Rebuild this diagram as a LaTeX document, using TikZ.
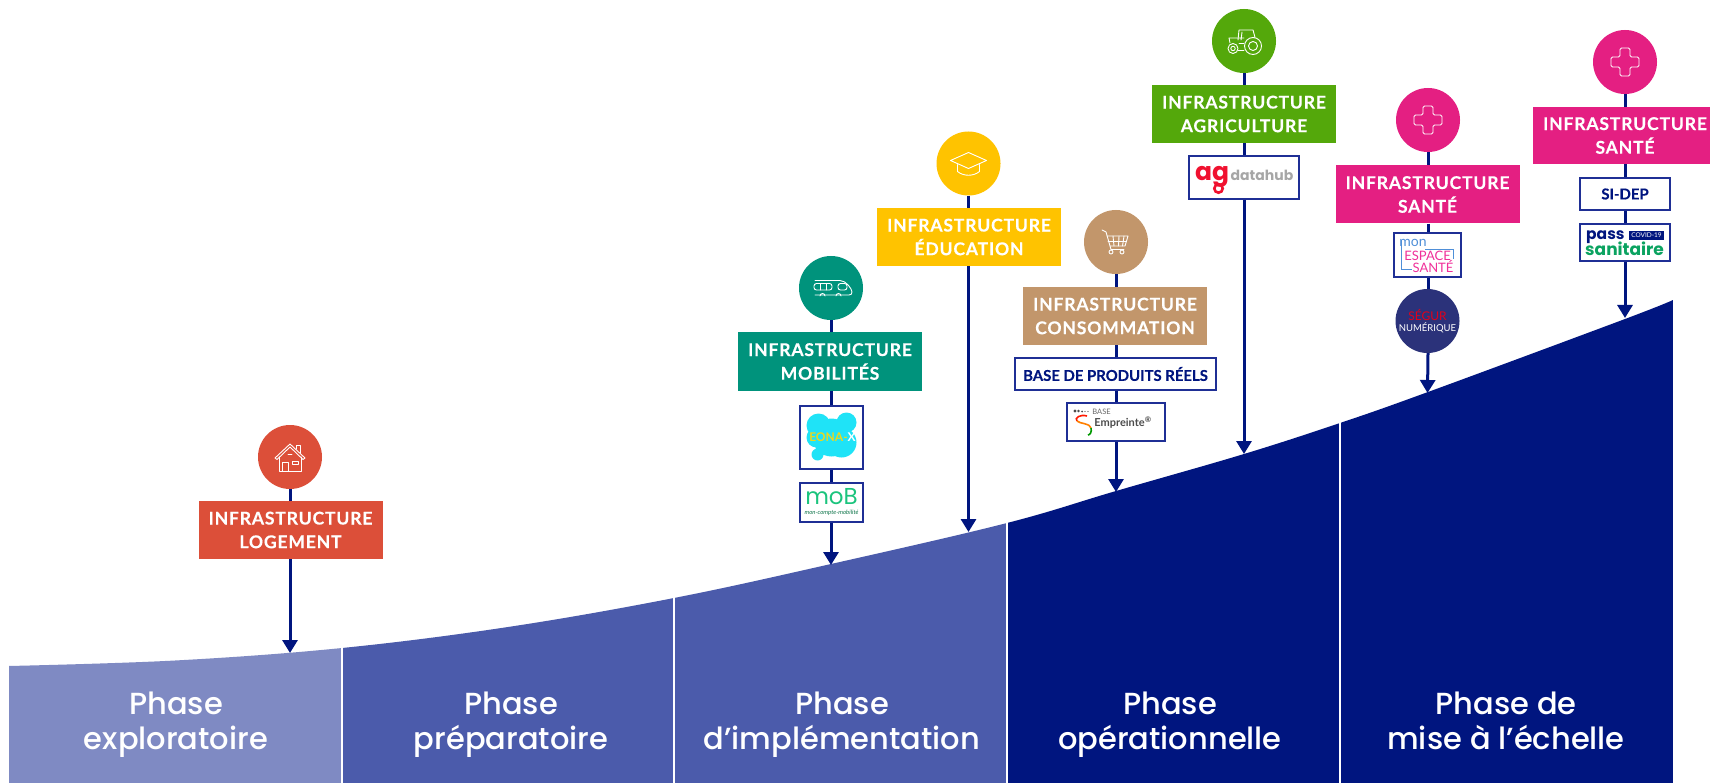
\documentclass[tikz,border=0pt]{standalone}
\usepackage{fontspec}
\usetikzlibrary{arrows.meta}
\setmainfont{Lato}
\newfontfamily\infrafont[LetterSpace=4.5,BoldFont={Lato Bold},BoldFeatures={FakeBold=0.2}]{Lato}
\newfontfamily\boxfont[BoldFont={Lato Bold},BoldFeatures={FakeBold=0.3}]{Lato}
\newfontfamily\phasefont{Poppins Medium}
\newfontfamily\popfont{Poppins}
\definecolor{navy}{HTML}{00157F}
\definecolor{boxblue}{HTML}{1F2F95}
\definecolor{ph1}{HTML}{7F8AC3}
\definecolor{ph2}{HTML}{4B5BAB}
\definecolor{clog}{HTML}{DC4F39}
\definecolor{cmob}{HTML}{00937C}
\definecolor{cedu}{HTML}{FFC300}
\definecolor{ccon}{HTML}{C2966B}
\definecolor{cagr}{HTML}{54A80B}
\definecolor{csan}{HTML}{E41F82}
\definecolor{cseg}{HTML}{2B327A}
\definecolor{mobgreen}{HTML}{1BC47D}
\definecolor{passgreen}{HTML}{0BA360}
\definecolor{eonacyan}{HTML}{1FE3F7}
\definecolor{eonayellow}{HTML}{E8D820}
\definecolor{agred}{HTML}{F0112F}
\definecolor{segred}{HTML}{E2001A}
\definecolor{monblue}{HTML}{4F8FD8}
\definecolor{monpink}{HTML}{F0309A}
\tikzset{
  disc/.style={circle,fill=#1,minimum size=64pt,inner sep=0pt},
  infratext/.style={text=white,align=center,font=\infrafont\bfseries\fontsize{17.6}{23.7}\selectfont,
    execute at begin node={\rule{0pt}{15pt}}},
  infra/.style={fill=#1,infratext,minimum width=184pt,minimum height=58pt,inner sep=0pt},
  logobox/.style={draw=boxblue,line width=1.3pt,fill=white,inner sep=0pt,align=center},
  boxtext/.style={text=navy,font=\boxfont\bfseries\fontsize{14.9}{18}\selectfont},
  conn/.style={draw=navy,line width=3pt},
  connarrow/.style={conn,-{Triangle[length=13pt,width=15pt]}},
  phase/.style={text=white,align=center,font=\phasefont\fontsize{30.5}{32.5}\selectfont},
  icon/.style={draw=white,line width=0.9pt,line join=round,line cap=round,fill=none}
}
\begin{document}
\begin{tikzpicture}[x=1pt,y=-1pt]
\useasboundingbox[fill=white] (0,0) rectangle (1710,783);
% curve area
\begin{scope}
\clip plot[smooth,tension=0.6] coordinates {(9,666) (175,660.5) (342,648) (508,627) (674,598) (831,564) (1007,523) (1116,491) (1244,454) (1340,423) (1428,392) (1625,319) (1673,300)} -- (1673,783) -- (9,783) -- cycle;
\fill[ph1] (9,290) rectangle (341.2,783);
\fill[ph2] (342.8,290) rectangle (673.2,783);
\fill[ph2] (674.8,290) rectangle (1006.2,783);
\fill[navy] (1007.8,290) rectangle (1339.2,783);
\fill[navy] (1340.8,290) rectangle (1673,783);
\end{scope}
\node[phase] (p1) at (176,725.5) {Phase\strut\\exploratoire\strut};
\node[phase] (p2) at (511,725.5) {Phase\strut\\préparatoire\strut};
\node[phase] (p3) at (842,725.5) {Phase\strut\\d’implémentation\strut};
\node[phase] (p4) at (1170,725.5) {Phase\strut\\opérationnelle\strut};
\node[phase] (p5) at (1506,725.5) {Phase de\strut\\mise à l’échelle\strut};
% discs and banners
\node[disc=clog] (c1) at (290,457) {};
\node[infra=clog] (r1) at (290.5,530) {INFRASTRUCTURE\\LOGEMENT};
\node[disc=cmob] (c2) at (831,288) {};
\node[infra=cmob] (r2) at (830,361.5) {INFRASTRUCTURE\\MOBILITÉS};
\node[disc=cedu] (c3) at (968.5,163.5) {};
\node[infra=cedu] (r3) at (969,237) {INFRASTRUCTURE\\ÉDUCATION};
\node[disc=ccon] (c4) at (1116,242) {};
\node[infra=ccon] (r4) at (1115,316) {INFRASTRUCTURE\\CONSOMMATION};
\node[disc=cagr] (c5) at (1244,41) {};
\node[infra=cagr] (r5) at (1244,114) {INFRASTRUCTURE\\AGRICULTURE};
\node[disc=csan] (c6) at (1428,120) {};
\node[infra=csan] (r6) at (1427.5,194.5) {INFRASTRUCTURE\\SANTÉ};
\node[disc=csan] (c7) at (1625,62) {};
\node[fill=csan,minimum width=177pt,minimum height=57pt,inner sep=0pt] (r7) at (1621.5,135.5) {};
\node[infratext,inner sep=0pt] (r7t) at (1625,135.5) {INFRASTRUCTURE\\SANTÉ};
% logo boxes
\node[logobox,minimum width=63pt,minimum height=63pt] (b21) at (831.5,437.5) {};
\node[logobox,minimum width=63pt,minimum height=39pt] (b22) at (831.5,502.5) {};
\node[logobox,boxtext,minimum width=201pt,minimum height=32pt] (b41) at (1115.5,374) {BASE DE PRODUITS RÉELS};
\node[logobox,minimum width=98pt,minimum height=38pt] (b42) at (1116,422) {};
\node[logobox,minimum width=110pt,minimum height=43pt] (b51) at (1244,177.5) {};
\node[logobox,minimum width=67pt,minimum height=44pt] (b61) at (1427.5,255) {};
\node[circle,fill=cseg,minimum size=64pt,inner sep=0pt,align=center,text=white,font=\fontsize{9.5}{11.5}\selectfont] (b62) at (1427.5,321) {\textcolor{segred}{\fontsize{12}{12}\selectfont SÉGUR}\\NUMÉRIQUE};
\node[logobox,boxtext,minimum width=90pt,minimum height=32pt] (b71) at (1625,194) {SI-DEP};
\node[logobox,minimum width=90pt,minimum height=37pt] (b72) at (1625,242.5) {};
% connectors
\coordinate (t1) at (290,653);
\coordinate (t2) at (831,565);
\coordinate (t3) at (968.5,532);
\coordinate (t4) at (1116,492);
\coordinate (t5) at (1244,454);
\coordinate (t6) at (1427.5,393);
\coordinate (t7) at (1625,318);
\draw[conn] (c1) -- (c1 |- r1.north);
\draw[connarrow] (c1 |- r1.south) -- (t1);
\draw[conn] (c2) -- (c2 |- r2.north);
\draw[conn] (c2 |- r2.south) -- (c2 |- b21.north);
\draw[conn] (c2 |- b21.south) -- (c2 |- b22.north);
\draw[connarrow] (c2 |- b22.south) -- (t2);
\draw[conn] (c3) -- (c3 |- r3.north);
\draw[connarrow] (c3 |- r3.south) -- (t3);
\draw[conn] (c4) -- (c4 |- r4.north);
\draw[conn] (c4 |- r4.south) -- (c4 |- b41.north);
\draw[conn] (c4 |- b41.south) -- (c4 |- b42.north);
\draw[connarrow] (c4 |- b42.south) -- (t4);
\draw[conn] (c5) -- (c5 |- r5.north);
\draw[conn] (c5 |- r5.south) -- (c5 |- b51.north);
\draw[connarrow] (c5 |- b51.south) -- (t5);
\draw[conn] (c6) -- (c6 |- r6.north);
\draw[conn] (c6 |- r6.south) -- (c6 |- b61.north);
\draw[conn] (c6 |- b61.south) -- (c6 |- b62.north);
\draw[connarrow] (c6 |- b62.south) -- (t6);
\draw[conn] (c7) -- (c7 |- r7.north);
\draw[conn] (c7 |- r7.south) -- (c7 |- b71.north);
\draw[conn] (c7 |- b71.south) -- (c7 |- b72.north);
\draw[connarrow] (c7 |- b72.south) -- (t7);
% house icon
\begin{scope}[shift={(290,457)}]
\draw[icon] (-15,1) -- (0,-13) -- (15,1) -- (13,2.5) -- (0,-10) -- (-13,2.5) -- cycle;
\draw[icon] (-11,0) -- (-11,14) -- (11,14) -- (11,0);
\draw[icon] (-7.5,14) -- (-7.5,5) -- (-2,5) -- (-2,14);
\draw[icon] (2.5,4) rectangle (8,7.6);
\draw[icon] (6,-8) -- (6,-12) -- (10,-12) -- (10,-4);
\draw[icon] (-2,-3) -- (2,-3);
\end{scope}
% train icon
\begin{scope}[shift={(831,288)}]
\draw[icon,rounded corners=2.5pt] (-17,-4.5) rectangle (1,2);
\draw[icon] (-11,-4.5) -- (-11,2) (-5,-4.5) -- (-5,2);
\draw[icon,rounded corners=2.5pt] (7,-4.5) rectangle (16,2);
\draw[icon] (-16,-7.5) -- (9,-7.5) .. controls (15,-7.5) and (21,1) .. (21,4) .. controls (21,6) and (20,7) .. (18,7) -- (-16,7);
\draw[icon] (-11,8) arc[start angle=180,end angle=360,radius=2.5] (5,8) arc[start angle=180,end angle=360,radius=2.5];
\end{scope}
% graduation cap
\begin{scope}[shift={(968.5,163.5)}]
\draw[icon] (-18,-3) -- (0,-11) -- (18,-3) -- (0,5) -- cycle;
\draw[icon] (-11,1) -- (-11,8) .. controls (-5,13) and (5,13) .. (11,8) -- (11,1);
\end{scope}
% cart
\begin{scope}[shift={(1116,242)}]
\draw[icon] (-14,-12) -- (-10,-10) -- (-5,7.5) -- (8,7.5);
\draw[icon] (-9,-6) -- (12,-6) -- (9,4) -- (-6,4);
\draw[icon] (-8,-1) -- (10.5,-1);
\draw[icon] (-3,-6) -- (-2,4) (3,-6) -- (2.5,4) (8,-6) -- (6.5,4);
\draw[icon] (-5,10) circle[radius=2] (6,10) circle[radius=2];
\end{scope}
% tractor
\begin{scope}[shift={(1244,41)}]
\draw[icon] (9,5) circle[radius=8.5] (9,5) circle[radius=4.5];
\draw[icon] (-11,7.5) circle[radius=5] (-11,7.5) circle[radius=2.2];
\draw[icon] (-6,-1) -- (-5,-11) -- (9,-11) -- (11,-3.5);
\draw[icon] (-3,-1) -- (-2,-9) (-14,2) -- (-15,-3) -- (-6,-3) -- (0,-3);
\draw[icon] (-6,9) -- (0,9) (-5,2) -- (0,2);
\end{scope}
% crosses
\begin{scope}[shift={(1428,120)}]
\draw[icon,rounded corners=1.5pt] (-5,-14) -- (5,-14) -- (5,-5) -- (14,-5) -- (14,5) -- (5,5) -- (5,14) -- (-5,14) -- (-5,5) -- (-14,5) -- (-14,-5) -- (-5,-5) -- cycle;
\end{scope}
\begin{scope}[shift={(1625,62)}]
\draw[icon,rounded corners=1.5pt] (-5,-14) -- (5,-14) -- (5,-5) -- (14,-5) -- (14,5) -- (5,5) -- (5,14) -- (-5,14) -- (-5,5) -- (-14,5) -- (-14,-5) -- (-5,-5) -- cycle;
\end{scope}
% EONA-X
\begin{scope}[shift={(831.5,437.5)}]
\fill[eonacyan] (0,0) circle[radius=19] (15,-15) circle[radius=10] (10,5) circle[radius=15] (-13,-12) circle[radius=12] (-14,17) circle[radius=6] (-15,0) circle[radius=10];
\node[inner sep=0pt,font=\bfseries\fontsize{12}{12}\selectfont] (eona) at (1,0) {\textcolor{eonayellow}{EONA-}\textcolor{white}{X}};
\end{scope}
% mob
\node[inner sep=0pt,text=mobgreen,font=\popfont\fontsize{23}{23}\selectfont] (mob) at (831.5,497) {moB};
\node[inner sep=0pt,text=mobgreen!60!black,font=\itshape\fontsize{6}{6}\selectfont] (mobs) at (831.5,512.5) {mon-compte-mobilité};
% Empreinte
\begin{scope}[shift={(1116,422)}]
\draw[red!80!orange,line width=1.6pt] (-29,-6) .. controls (-36,-8) and (-42,-4) .. (-39,-1);
\draw[orange,line width=1.6pt] (-39,-1) .. controls (-36,2) and (-26,1) .. (-25,6);
\draw[green!60!black,line width=1.6pt] (-25,6) .. controls (-24,10) and (-26,13) .. (-28,13);
\fill[black!70] (-41,-11) circle[radius=1.7] (-37.5,-11) circle[radius=1.3] (-34,-10.5) circle[radius=1] (-31,-10.5) circle[radius=0.7] (-28,-10.5) circle[radius=0.6];
\node[inner sep=0pt,text=black!60,font=\fontsize{7.5}{7.5}\selectfont] (ebase) at (-14.5,-10) {BASE};
\node[inner sep=0pt,text=black!70,font=\bfseries\fontsize{11}{11}\selectfont] (eemp) at (7,0.5) {Empreinte\textsuperscript{®}};
\end{scope}
% agdatahub
\draw[agred,line width=2.6pt] (1218.5,188.5) circle[radius=4.2];
\node[inner sep=0pt,anchor=base,text=agred,font=\popfont\bfseries\fontsize{25}{25}\selectfont] (ag) at (1212,181) {ag};
\node[inner sep=0pt,anchor=base,text=black!35,font=\popfont\bfseries\fontsize{14}{14}\selectfont] (dh) at (1262,181) {datahub};
% mon espace sante
\draw[monblue,line width=0.8pt] (1401,240) -- (1401,269) -- (1412,269) (1425,249) -- (1453,249) -- (1453,259);
\node[inner sep=0pt,text=monblue,font=\fontsize{14}{14}\selectfont] (mon) at (1413,243) {mon};
\node[inner sep=0pt,text=monpink,font=\fontsize{13}{13}\selectfont] (esp) at (1427.5,256) {ESPACE};
\node[inner sep=0pt,text=monpink,font=\fontsize{13}{13}\selectfont] (san) at (1433,267) {SANTÉ};
% pass sanitaire
\node[inner sep=0pt,anchor=base west,text=navy,font=\popfont\bfseries\fontsize{15.5}{15.5}\selectfont] (pass) at (1586,240) {pass};
\node[fill=navy,text=white,inner sep=0pt,minimum width=35pt,minimum height=9pt,font=\fontsize{6.5}{6.5}\selectfont] (cov) at (1646.5,235.5) {COVID-19};
\node[inner sep=0pt,anchor=base west,text=passgreen,font=\popfont\bfseries\fontsize{17}{17}\selectfont] (sani) at (1585,256) {sanitaire};
\end{tikzpicture}
\end{document}
